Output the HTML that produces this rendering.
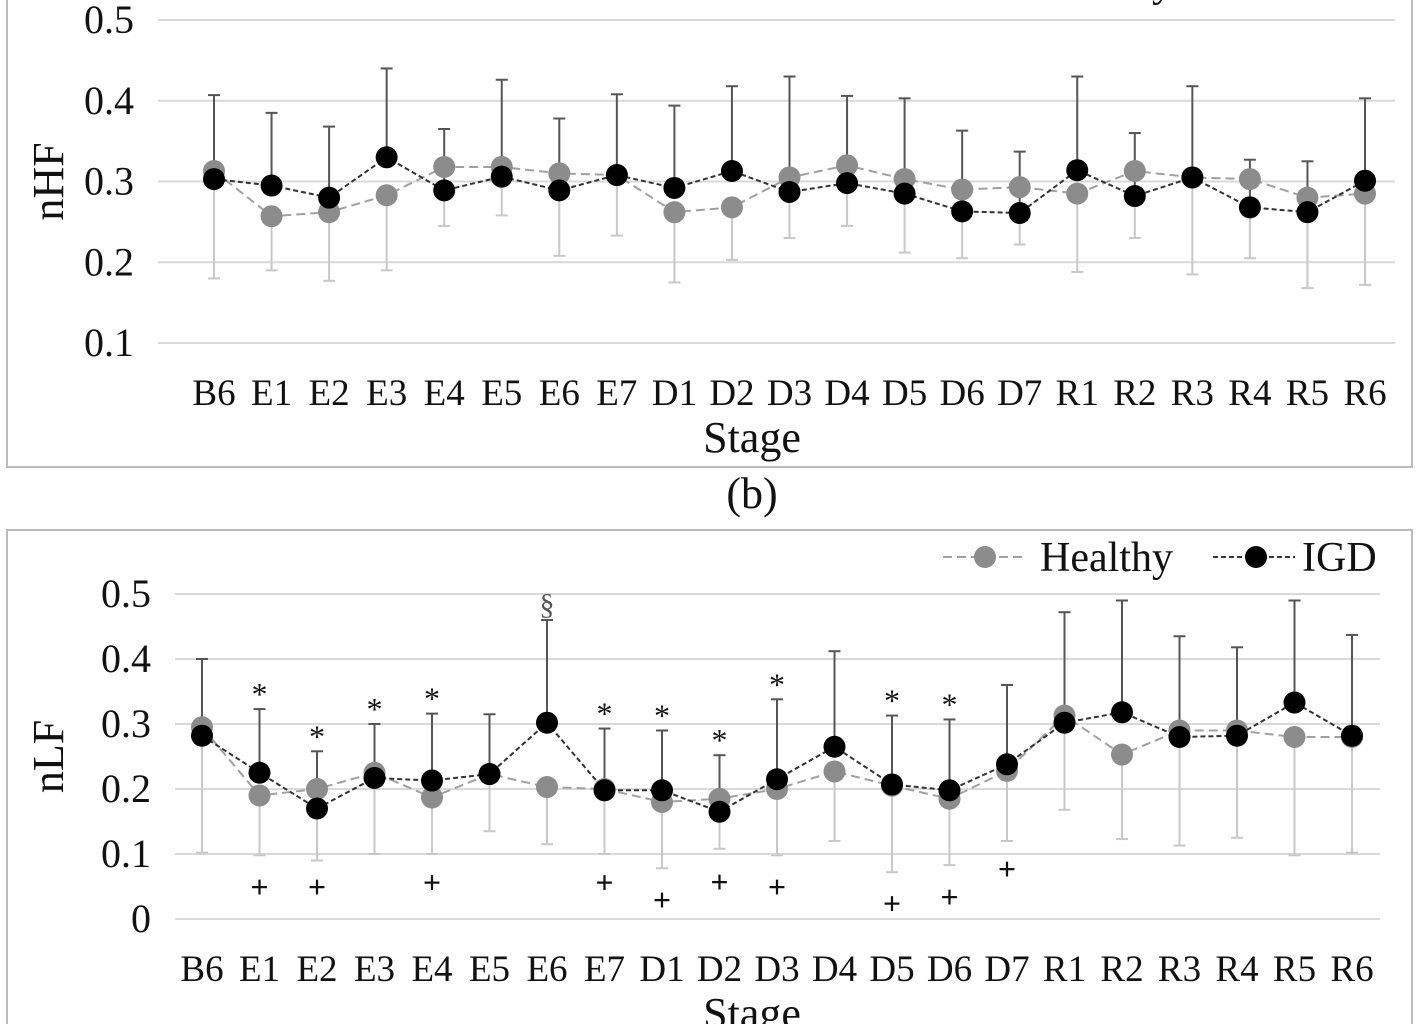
<!DOCTYPE html>
<html><head><meta charset="utf-8"><style>
html,body{margin:0;padding:0;background:#fff;width:1420px;height:1024px;overflow:hidden}
svg{display:block;font-family:"Liberation Serif",serif}
</style></head><body>
<svg id="c" width="1420" height="1024"></svg>
<script>
const categories=["B6","E1","E2","E3","E4","E5","E6","E7","D1","D2","D3","D4","D5","D6","D7","R1","R2","R3","R4","R5","R6"];
const hfHealthy=[.313,.257,.262,.283,.318,.318,.31,.308,.262,.268,.305,.32,.303,.29,.293,.285,.313,.305,.303,.28,.285];
const hfIGD=[.303,.295,.28,.33,.289,.306,.289,.308,.292,.313,.287,.298,.285,.263,.261,.314,.282,.305,.268,.262,.301];
const hfUpper=[.407,.385,.368,.44,.365,.426,.378,.408,.394,.418,.43,.406,.403,.363,.337,.43,.36,.418,.327,.325,.403];
const hfLower=[.18,.19,.177,.19,.245,.258,.208,.233,.175,.203,.23,.245,.212,.205,.222,.188,.23,.185,.205,.168,.172];
const hfTicks=[0.1,0.2,0.3,0.4,0.5];
const lfHealthy=[.295,.19,.2,.225,.187,.223,.203,.2,.18,.185,.2,.227,.205,.185,.228,.313,.253,.29,.29,.28,.28];
const lfIGD=[.282,.225,.17,.217,.213,.223,.302,.198,.198,.165,.215,.265,.207,.198,.238,.302,.318,.28,.282,.333,.282];
const lfUpper=[.4,.323,.258,.3,.316,.315,.46,.293,.29,.252,.338,.412,.313,.307,.36,.472,.49,.435,.418,.49,.437];
const lfLower=[.102,.098,.09,.1,.1,.135,.115,.1,.078,.108,.098,.12,.072,.083,.12,.168,.123,.113,.125,.098,.102];
const lfTicks=[0,0.1,0.2,0.3,0.4,0.5];
const starIdx=[1,2,3,4,7,8,9,10,12,13];
const plusVal=[.05,.05,.057,.057,.03,.058,.05,.025,.035,.078];
const plusIdx=[1,2,4,7,8,9,10,12,13,14];
const NS="http://www.w3.org/2000/svg";
const svg=document.getElementById('c');
function el(t,a,txt){const e=document.createElementNS(NS,t);for(const k in a)e.setAttribute(k,a[k]);if(txt!=null)e.textContent=txt;svg.appendChild(e);return e;}

function panel(p){
  const y=v=>p.y0+(v-p.v0)*(p.y1-p.y0)/(p.v1-p.v0);
  const x=i=>p.x0+i*p.dx;
  const box=el('rect',{x:7,y:p.boxTop,width:1405,height:p.boxH,fill:'none',stroke:'#bbb','stroke-width':2});
  
  p.ticks.forEach(t=>{
    const g=el('line',{x1:p.gx0,x2:p.gx1,y1:y(t),y2:y(t),stroke:'#d9d9d9','stroke-width':2});
    
    const l=el('text',{x:p.gx0-24,y:y(t)+13,'font-size':40,'text-anchor':'end',fill:'#111'},t===0?'0':t.toFixed(1));
    
  });
  categories.forEach((c,i)=>{
    const l=el('text',{x:x(i),y:p.tickY,'font-size':37,'text-anchor':'middle',fill:'#111'},c);
    
  });
  const xt=el('text',{x:752,y:p.tickY+47,'font-size':44,'text-anchor':'middle',fill:'#111'},'Stage');
  
  const yt=el('text',{x:0,y:0,'font-size':44,'text-anchor':'middle',fill:'#111',transform:`translate(63,${(y(p.ticks[0])+y(p.ticks[p.ticks.length-1]))/2}) rotate(-90)`},p.ylab);
  
  categories.forEach((c,i)=>{
    const lo=el('line',{x1:x(i),x2:x(i),y1:y(p.hl[i]),y2:y(p.lower[i]),stroke:'#c8c8c8','stroke-width':2});
    
    el('line',{x1:x(i)-6,x2:x(i)+6,y1:y(p.lower[i]),y2:y(p.lower[i]),stroke:'#c8c8c8','stroke-width':2});
    const up=el('line',{x1:x(i),x2:x(i),y1:y(p.ig[i]),y2:y(p.upper[i]),stroke:'#555','stroke-width':2});
    
    el('line',{x1:x(i)-6,x2:x(i)+6,y1:y(p.upper[i]),y2:y(p.upper[i]),stroke:'#555','stroke-width':2});
  });
  const ph=el('polyline',{points:p.hl.map((v,i)=>x(i)+','+y(v)).join(' '),fill:'none',stroke:'#a0a0a0','stroke-width':2,'stroke-dasharray':'9,5'});
  
  p.hl.forEach((v,i)=>{const d=el('circle',{cx:x(i),cy:y(v),r:11,fill:'#8c8c8c'});
    });
  const pi=el('polyline',{points:p.ig.map((v,i)=>x(i)+','+y(v)).join(' '),fill:'none',stroke:'#333','stroke-width':2,'stroke-dasharray':'5,3'});
  
  p.ig.forEach((v,i)=>{const d=el('circle',{cx:x(i),cy:y(v),r:11,fill:'#000'});
    });
  const ly=p.legY;
  el('line',{x1:943,x2:1027,y1:ly,y2:ly,stroke:'#a0a0a0','stroke-width':2,'stroke-dasharray':'9,5'});
  el('circle',{cx:985,cy:ly,r:11,fill:'#8c8c8c'});
  const t1=el('text',{x:1040,y:ly+14,'font-size':42,fill:'#111'},'Healthy');
  
  el('line',{x1:1213,x2:1295,y1:ly,y2:ly,stroke:'#333','stroke-width':2,'stroke-dasharray':'5,3'});
  el('circle',{cx:1256,cy:ly,r:11,fill:'#000'});
  const t2=el('text',{x:1302,y:ly+14,'font-size':42,fill:'#111'},'IGD');
  
  return {x,y};
}
panel({name:'nhf-panel',boxTop:-10,boxH:477,y0:343,y1:20,v0:0.1,v1:0.5,x0:214,dx:57.55,gx0:158,gx1:1395,ticks:hfTicks,tickY:405,ylab:'nHF',hl:hfHealthy,ig:hfIGD,upper:hfUpper,lower:hfLower,legY:-18});
const cap=el('text',{x:752,y:508,'font-size':44,'text-anchor':'middle',fill:'#111'},'(b)');

const b=panel({name:'nlf-panel',boxTop:530,boxH:510,y0:919,y1:594,v0:0,v1:0.5,x0:202,dx:57.5,gx0:175,gx1:1380,ticks:lfTicks,tickY:981,ylab:'nLF',hl:lfHealthy,ig:lfIGD,upper:lfUpper,lower:lfLower,legY:557});
starIdx.forEach(i=>{const s=el('text',{x:b.x(i),y:b.y(lfUpper[i])-4,'font-size':32,'text-anchor':'middle',fill:'#111'},'*');
  });
const sec=el('text',{x:b.x(6),y:b.y(lfUpper[6])-6,'font-size':30,'text-anchor':'middle',fill:'#555'},'§');

plusIdx.forEach((i,k)=>{const s=el('text',{x:b.x(i),y:b.y(plusVal[k])+11,'font-size':32,'font-weight':'bold','text-anchor':'middle',fill:'#111'},'+');
  });
</script>
</body></html>
